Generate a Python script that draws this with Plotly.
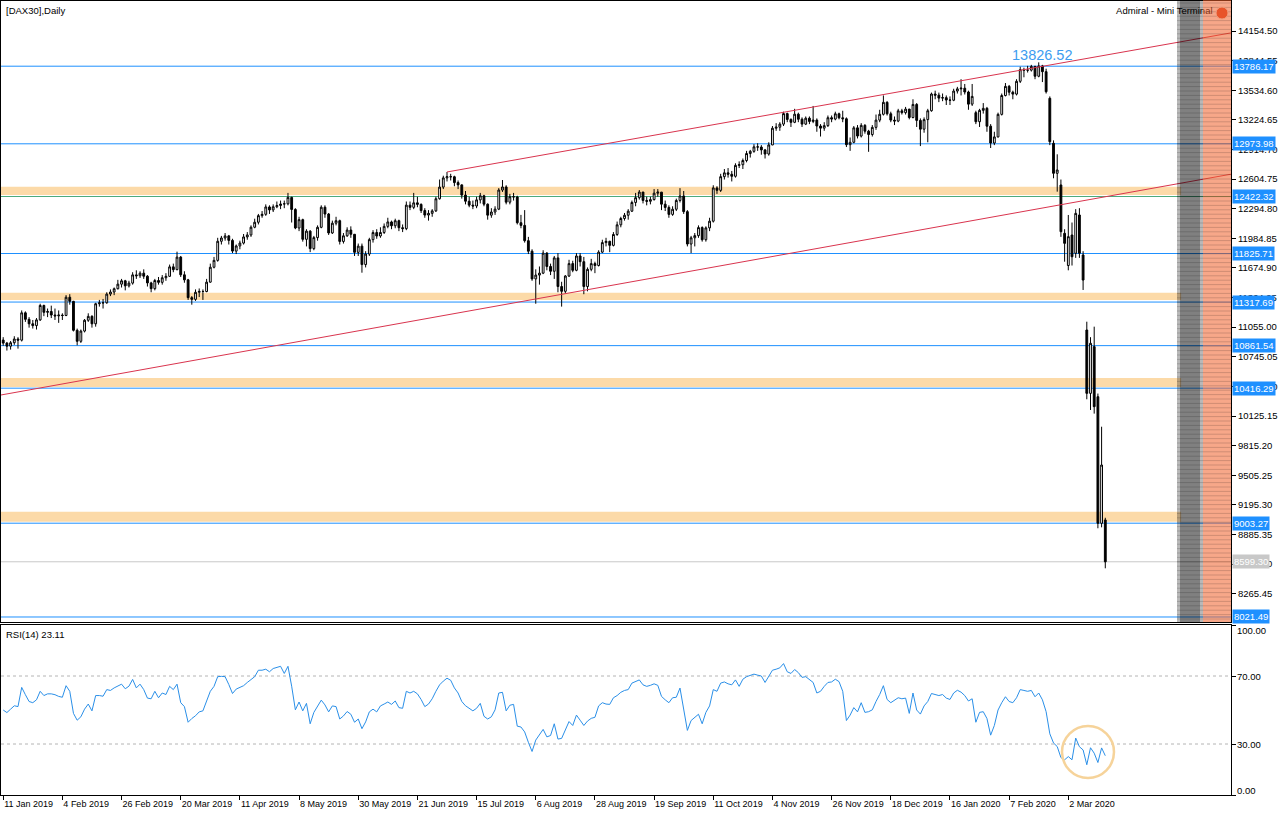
import plotly.graph_objects as go

# ---------------- data ----------------
date_labels = ["11 Jan 2019", "4 Feb 2019", "26 Feb 2019", "20 Mar 2019", "11 Apr 2019",
               "8 May 2019", "30 May 2019", "21 Jun 2019", "15 Jul 2019", "6 Aug 2019",
               "28 Aug 2019", "19 Sep 2019", "11 Oct 2019", "4 Nov 2019", "26 Nov 2019",
               "18 Dec 2019", "16 Jan 2020", "7 Feb 2020", "2 Mar 2020"]
date_label_bars = [0, 16, 32, 48, 64, 80, 96, 112, 128, 144, 160, 176, 192, 208, 224,
                   240, 256, 272, 288]

opens = [
    10920, 10888, 10856, 10892, 10931, 10919, 11205, 11137, 11090, 11071,
    11131, 11282, 11210, 11219, 11182, 11173, 11181, 11177, 11368, 11325,
    11022, 10907, 11014, 11127, 11168, 11090, 11300, 11309, 11310, 11401,
    11423, 11457, 11505, 11540, 11487, 11516, 11602, 11593, 11620, 11588,
    11518, 11458, 11543, 11524, 11572, 11587, 11686, 11657, 11788, 11603,
    11550, 11364, 11346, 11420, 11429, 11428, 11526, 11682, 11754, 11954,
    11988, 12010, 11963, 11851, 11905, 11935, 11999, 12020, 12101, 12153,
    12222, 12236, 12313, 12282, 12315, 12328, 12344, 12346, 12413, 12287,
    12093, 12180, 11974, 12060, 11877, 11992, 12100, 12310, 12239, 12041,
    12143, 12169, 11952, 12011, 12071, 12027, 11838, 11903, 11710, 11820,
    11971, 12045, 12009, 12046, 12110, 12156, 12116, 12169, 12096, 12086,
    12332, 12309, 12356, 12340, 12275, 12228, 12246, 12272, 12399, 12521,
    12617, 12630, 12629, 12568, 12544, 12437, 12373, 12332, 12323, 12387,
    12430, 12342, 12227, 12260, 12290, 12490, 12522, 12363, 12420, 12418,
    12148, 12120, 11960, 11850, 11560, 11600, 11620, 11830, 11690, 11640,
    11780, 11480, 11430, 11590, 11720, 11650, 11800, 11740, 11480, 11660,
    11720, 11700, 11840, 11940, 11953, 11911, 12025, 12126, 12192, 12226,
    12269, 12360, 12410, 12469, 12381, 12372, 12390, 12457, 12468, 12342,
    12308, 12235, 12289, 12381, 12428, 12264, 11925, 11990, 12013, 12097,
    11970, 12094, 12164, 12512, 12487, 12630, 12670, 12655, 12634, 12748,
    12755, 12799, 12872, 12895, 12942, 12940, 12910, 12867, 12962, 13137,
    13148, 13180, 13290, 13229, 13199, 13284, 13231, 13180, 13242, 13208,
    13222, 13160, 13138, 13164, 13247, 13233, 13288, 13246, 13236, 12965,
    12990, 13141, 13055, 13167, 13106, 13071, 13146, 13222, 13283, 13408,
    13288, 13222, 13212, 13319, 13300, 13337, 13249, 13386, 13219, 13127,
    13227, 13320, 13495, 13483, 13452, 13457, 13432, 13430, 13526, 13549,
    13556, 13516, 13389, 13300, 13205, 13324, 13345, 13158, 12982, 13046,
    13282, 13479, 13575, 13514, 13494, 13628, 13750, 13745, 13745, 13784,
    13681, 13789, 13729, 13450, 12979, 12665, 12543, 12037, 11700, 12019,
    11828, 12229, 11810, 11025, 10362, 10851, 10327, 9002, 9037]

highs = [
    10950, 10900, 10910, 10960, 10950, 11230, 11220, 11160, 11130, 11150,
    11300, 11290, 11250, 11280, 11250, 11230, 11200, 11390, 11400, 11330,
    11040, 11030, 11140, 11200, 11180, 11310, 11340, 11350, 11420, 11450,
    11470, 11550, 11560, 11550, 11540, 11630, 11650, 11640, 11660, 11600,
    11530, 11560, 11580, 11600, 11620, 11710, 11720, 11845, 11800, 11640,
    11560, 11380, 11450, 11460, 11450, 11560, 11720, 11790, 11990, 12010,
    12040, 12020, 11980, 11920, 11960, 12030, 12050, 12120, 12190, 12240,
    12270, 12340, 12330, 12340, 12370, 12380, 12380, 12460, 12420, 12300,
    12210, 12190, 12080, 12070, 12010, 12120, 12330, 12330, 12250, 12170,
    12210, 12180, 12040, 12100, 12110, 12030, 11930, 11930, 11850, 11990,
    12070, 12080, 12100, 12140, 12200, 12170, 12190, 12180, 12130, 12370,
    12370, 12460, 12420, 12350, 12300, 12280, 12290, 12420, 12600, 12640,
    12679, 12660, 12640, 12590, 12550, 12480, 12420, 12380, 12420, 12460,
    12440, 12350, 12300, 12320, 12510, 12595, 12540, 12450, 12460, 12430,
    12230, 12280, 12000, 11870, 11660, 11690, 11860, 11840, 11720, 11800,
    11830, 11530, 11600, 11760, 11750, 11830, 11830, 11790, 11680, 11770,
    11740, 11860, 11970, 11990, 11960, 12050, 12160, 12210, 12250, 12290,
    12380, 12460, 12490, 12470, 12420, 12420, 12500, 12500, 12470, 12380,
    12330, 12320, 12400, 12510, 12480, 12280, 12010, 12040, 12120, 12110,
    12110, 12200, 12540, 12530, 12660, 12710, 12720, 12690, 12770, 12790,
    12820, 12900, 12910, 12970, 12980, 12960, 12920, 12990, 13160, 13190,
    13200, 13310, 13300, 13240, 13340, 13300, 13250, 13260, 13260, 13370,
    13240, 13180, 13200, 13270, 13270, 13310, 13300, 13320, 13250, 13040,
    13160, 13170, 13190, 13180, 13120, 13170, 13280, 13330, 13480, 13420,
    13310, 13260, 13340, 13340, 13360, 13340, 13440, 13400, 13240, 13250,
    13340, 13510, 13530, 13510, 13500, 13480, 13470, 13550, 13570, 13650,
    13600, 13530, 13600, 13320, 13340, 13400, 13360, 13180, 13100, 13300,
    13500, 13610, 13590, 13530, 13650, 13780, 13770, 13790, 13800, 13790,
    13826.52, 13800, 13760, 13470, 13010, 12864, 12600, 12080, 12229, 12150,
    12290, 12300, 11850, 11112, 10950, 11060, 10360, 10013, 9060]

lows = [
    10860, 10810, 10820, 10870, 10830, 10905, 11110, 11050, 11040, 11030,
    11120, 11170, 11160, 11150, 11130, 11100, 11130, 11170, 11290, 11010,
    10865, 10890, 11000, 11110, 11050, 11060, 11270, 11250, 11300, 11380,
    11390, 11450, 11470, 11440, 11470, 11500, 11560, 11570, 11560, 11480,
    11420, 11440, 11500, 11500, 11540, 11580, 11630, 11650, 11580, 11520,
    11340, 11290, 11330, 11370, 11340, 11420, 11520, 11670, 11740, 11920,
    11960, 11920, 11830, 11820, 11870, 11920, 11970, 12000, 12090, 12130,
    12200, 12220, 12240, 12260, 12300, 12290, 12300, 12330, 12150, 12080,
    12060, 11950, 11900, 11840, 11860, 11960, 12090, 12200, 12020, 12030,
    12120, 11920, 11930, 12000, 11990, 11800, 11800, 11625, 11680, 11800,
    11940, 11980, 11990, 12030, 12090, 12080, 12090, 12060, 12050, 12070,
    12280, 12290, 12310, 12250, 12200, 12170, 12210, 12260, 12390, 12500,
    12580, 12590, 12530, 12500, 12400, 12340, 12310, 12290, 12300, 12350,
    12320, 12180, 12200, 12230, 12280, 12470, 12340, 12340, 12380, 12130,
    12090, 11940, 11820, 11540, 11300, 11500, 11610, 11650, 11600, 11560,
    11420, 11270, 11410, 11580, 11630, 11640, 11690, 11400, 11430, 11640,
    11620, 11690, 11830, 11900, 11840, 11900, 12010, 12100, 12170, 12180,
    12260, 12320, 12390, 12350, 12330, 12340, 12380, 12420, 12280, 12270,
    12200, 12220, 12270, 12360, 12240, 11900, 11830, 11900, 11990, 11950,
    11950, 12060, 12150, 12450, 12470, 12600, 12620, 12580, 12620, 12720,
    12710, 12780, 12830, 12880, 12900, 12860, 12820, 12850, 12960, 13110,
    13110, 13160, 13200, 13150, 13190, 13200, 13150, 13170, 13180, 13190,
    13100, 13050, 13110, 13150, 13200, 13220, 13230, 13200, 12940, 12900,
    12980, 13030, 13040, 13080, 12890, 13050, 13120, 13200, 13270, 13270,
    13200, 13170, 13200, 13280, 13280, 13230, 13240, 13150, 12950, 13090,
    12990, 13310, 13440, 13410, 13420, 13380, 13380, 13420, 13500, 13480,
    13490, 13330, 13370, 13180, 13150, 13290, 13100, 12930, 12960, 13040,
    13270, 13470, 13480, 13440, 13480, 13610, 13670, 13720, 13730, 13650,
    13670, 13620, 13500, 12960, 12613, 12473, 12000, 11740, 11650, 11700,
    11780, 11780, 11444, 10300, 10188, 10150, 8950, 8960, 8531]

closes = [
    10888, 10856, 10892, 10931, 10919, 11205, 11137, 11090, 11071, 11131,
    11282, 11210, 11219, 11182, 11173, 11181, 11177, 11368, 11325, 11022,
    10907, 11014, 11127, 11168, 11090, 11300, 11309, 11310, 11401, 11423,
    11457, 11505, 11540, 11487, 11516, 11602, 11593, 11620, 11588, 11518,
    11458, 11543, 11524, 11572, 11587, 11686, 11657, 11788, 11603, 11550,
    11364, 11346, 11420, 11429, 11428, 11526, 11682, 11754, 11954, 11988,
    12010, 11963, 11851, 11905, 11935, 11999, 12020, 12101, 12153, 12222,
    12236, 12313, 12282, 12315, 12328, 12344, 12346, 12413, 12287, 12093,
    12180, 11974, 12060, 11877, 11992, 12100, 12310, 12239, 12041, 12143,
    12169, 11952, 12011, 12071, 12027, 11838, 11903, 11710, 11820, 11971,
    12045, 12009, 12046, 12110, 12156, 12116, 12169, 12096, 12086, 12332,
    12309, 12356, 12340, 12275, 12228, 12246, 12272, 12399, 12521, 12617,
    12630, 12629, 12568, 12544, 12437, 12373, 12332, 12323, 12387, 12430,
    12342, 12227, 12260, 12290, 12490, 12522, 12363, 12420, 12418, 12148,
    12120, 11960, 11850, 11560, 11600, 11620, 11830, 11690, 11640, 11780,
    11480, 11430, 11590, 11720, 11650, 11800, 11740, 11480, 11660, 11720,
    11700, 11840, 11940, 11953, 11911, 12025, 12126, 12192, 12226, 12269,
    12360, 12410, 12469, 12381, 12372, 12390, 12457, 12468, 12342, 12308,
    12235, 12289, 12381, 12428, 12264, 11925, 11990, 12013, 12097, 11970,
    12094, 12164, 12512, 12487, 12630, 12670, 12655, 12634, 12748, 12755,
    12799, 12872, 12895, 12942, 12940, 12910, 12867, 12962, 13137, 13148,
    13180, 13290, 13229, 13199, 13284, 13231, 13180, 13242, 13208, 13222,
    13160, 13138, 13164, 13247, 13233, 13288, 13246, 13236, 12965, 12990,
    13141, 13055, 13167, 13106, 13071, 13146, 13222, 13283, 13408, 13288,
    13222, 13212, 13319, 13300, 13337, 13249, 13386, 13219, 13127, 13227,
    13320, 13495, 13483, 13452, 13457, 13432, 13430, 13526, 13549, 13556,
    13516, 13389, 13470, 13205, 13324, 13345, 13158, 12982, 13046, 13282,
    13479, 13575, 13514, 13494, 13628, 13750, 13745, 13745, 13784, 13681,
    13789, 13729, 13519, 12996, 12665, 12700, 12054, 11932, 12002, 11792,
    12246, 11828, 11548, 10362, 10886, 10223, 9002, 9612, 8599.30]

rsi_values = [
    50, 48.5, 50.5, 52.5, 52, 63.3, 59, 55, 54.3, 56,
    61, 58.5, 59.5, 59.5, 59, 58, 57.5, 64.3, 61, 48,
    44, 46, 50.5, 53.5, 49.5, 58.5, 58.5, 58.1, 62, 61.5,
    63, 64.3, 65.2, 62.5, 64, 68, 63, 65.2, 62, 57,
    56.6, 61, 57.2, 60, 59.1, 63.9, 62, 65.2, 54.3, 52,
    42.8, 45, 46.6, 48.9, 49.5, 55.3, 61, 63.9, 69.6, 69.8,
    69.6, 65, 59.7, 62.3, 63.5, 64.3, 66.2, 68, 69.6, 73.4,
    73.4, 74, 72.5, 74.4, 75, 75.7, 71.5, 75.7, 64, 50.1,
    54.7, 49.5, 53.9, 41.9, 48.6, 52.5, 55.8, 53, 48.9, 52.4,
    52, 44.7, 46.5, 49.1, 47.5, 42.8, 44.7, 39, 43, 48.9,
    50.5, 48.9, 52.4, 53.5, 54.7, 53.3, 55.3, 51.4, 51, 61,
    60, 61, 59.5, 56.2, 52, 53.5, 56.6, 61, 64.8, 67,
    68.7, 67.5, 63, 60, 55, 52.5, 50.9, 49.5, 51, 53.9,
    46.3, 44.7, 46, 50.1, 60, 60.4, 49.5, 52.8, 53.3, 40.5,
    40, 37.1, 31, 25.6, 32.3, 35.5, 38.6, 34.2, 35, 41.9,
    32.9, 33.3, 38, 43.2, 40.9, 47, 44, 40.9, 43.5, 45.1,
    45.7, 52.4, 54.3, 53.5, 53.3, 57.2, 58.5, 60.4, 61.5, 62,
    65.8, 66.8, 67.7, 64.8, 63.9, 64.5, 65.4, 64.5, 58, 56,
    54.3, 57.2, 57.5, 62.9, 50, 38, 43.8, 45.7, 47.5, 41.9,
    48.6, 52.4, 62, 61, 65.8, 66.5, 65.4, 64.8, 67.7, 63.9,
    68.1, 69.6, 70.5, 71.1, 70.5, 70, 66.2, 70, 73.4, 74,
    74.8, 77.3, 72.5, 71.5, 73.8, 72, 69.2, 69.6, 68, 66.2,
    60, 61, 63.9, 66.2, 66.5, 68.1, 66.7, 61, 43.8, 47,
    51.4, 48.9, 54.3, 48.6, 49, 50.1, 55, 59.1, 64.3, 56.2,
    54.3, 55.5, 57.2, 56.6, 57, 48, 60, 50, 47.6, 52.4,
    55, 59.7, 59, 58.5, 59.1, 57, 56.2, 60, 61.6, 60.5,
    58.5, 55.3, 56.6, 42.8, 48.6, 49, 45, 35.2, 40.9, 50,
    54.3, 57.8, 55, 54.3, 57.2, 62, 61.5, 61, 61.5, 57.8,
    60, 56, 49, 36, 30.6, 28.5, 22, 20.7, 22.6, 20.7,
    33.5, 28.4, 26.5, 17.8, 27.8, 24.6, 19.1, 27.7, 23.11]

price_ticks = [14154.50, 13844.55, 13534.60, 13224.65, 12914.70, 12604.75, 12294.80,
               11984.85, 11674.90, 11364.95, 11055.00, 10745.05, 10435.10, 10125.15,
               9815.20, 9505.25, 9195.30, 8885.35, 8575.40, 8265.45]

level_prices = [13786.17, 12973.98, 12422.32, 11825.71, 11317.69, 10861.54, 10416.29,
                9003.27, 8021.49]
green_level = 12422.32
current_price = 8599.30
zone_low = [12438, 11339, 10428, 9019]
zone_high = [12525, 11416, 10523, 9124]

peak_bar = 281
peak_value = 13826.52

channel_upper_x = [120, 332]
channel_upper_y = [12679, 14135]
channel_lower_x = [-0.6, 332]
channel_lower_y = [10345, 12656]

rsi_levels = [70, 30]
rsi_tick_values = [100, 70, 30, 0]
rsi_last = 23.11

assert len(opens) == len(highs) == len(lows) == len(closes) == len(rsi_values)

# ---------------- geometry ----------------
W, H = 1280, 815
ML, MR, MT, MB = 1, 49, 1, 20
PW, PH = W - ML - MR, H - MT - MB


def px_x(px):
    return (px - ML) / PW


def px_y(py):
    return (H - MB - py) / PH


main_dom = [px_y(622), 1.0]
rsi_dom = [0.0, px_y(625)]
x_range = [-0.595, 331.99]
y_range = [7969.1, 14468.5]

FONT = "Liberation Sans, Arial, sans-serif"
BLUE = "#1e90ff"

bars = list(range(len(closes)))

fig = go.Figure()

fig.add_trace(go.Candlestick(
    x=bars, open=opens, high=highs, low=lows, close=closes,
    increasing=dict(line=dict(color="black", width=1), fillcolor="white"),
    decreasing=dict(line=dict(color="black", width=1), fillcolor="black"),
    whiskerwidth=0, xaxis="x", yaxis="y", showlegend=False, hoverinfo="skip"))

for xs, ys in [(channel_upper_x, channel_upper_y), (channel_lower_x, channel_lower_y)]:
    fig.add_trace(go.Scatter(x=xs, y=ys, mode="lines", line=dict(color="#d9344e", width=1),
                             xaxis="x", yaxis="y", showlegend=False, hoverinfo="skip"))

fig.add_trace(go.Scatter(x=bars, y=rsi_values, mode="lines",
                         line=dict(color="#2a8fe8", width=1),
                         xaxis="x2", yaxis="y2", showlegend=False, hoverinfo="skip"))

# window title text of the mini terminal (drawn under the terminal strips)
fig.add_trace(go.Scatter(x=[327.0], y=[14353], mode="text", text=["Admiral - Mini Terminal"],
                         textposition="middle left",
                         textfont=dict(family=FONT, size=9.5, color="black"),
                         xaxis="x", yaxis="y", showlegend=False, hoverinfo="skip"))

shapes = []
# supply / demand zones
for lo, hi in zip(zone_low, zone_high):
    shapes.append(dict(type="rect", xref="x", yref="y", x0=x_range[0], x1=318.5, y0=lo, y1=hi,
                       fillcolor="#fcdaa8", line=dict(width=0), layer="below"))
# horizontal levels
for lv in level_prices:
    col = "#4caa7c" if lv == green_level else BLUE
    shapes.append(dict(type="line", xref="x domain", yref="y", x0=0, x1=1, y0=lv, y1=lv,
                       line=dict(color=col, width=1), layer="below"))
shapes.append(dict(type="line", xref="x domain", yref="y", x0=0, x1=1, y0=current_price,
                   y1=current_price, line=dict(color="#c8c8c8", width=1), layer="below"))
# rsi levels
for lv in rsi_levels:
    shapes.append(dict(type="line", xref="x2 domain", yref="y2", x0=0, x1=1, y0=lv, y1=lv,
                       line=dict(color="#b4b4b4", width=1, dash="3px,3px"), layer="below"))
# mini-terminal strips (on top)
top_p, bot_p = px_y(0), main_dom[0]
shapes.append(dict(type="rect", xref="paper", yref="paper", x0=px_x(1177), x1=px_x(1203),
                   y0=bot_p, y1=top_p, fillcolor="rgba(0,0,0,0.28)", line=dict(width=0)))
shapes.append(dict(type="rect", xref="paper", yref="paper", x0=px_x(1180), x1=px_x(1200),
                   y0=bot_p, y1=top_p, fillcolor="rgba(0,0,0,0.30)", line=dict(width=0)))
shapes.append(dict(type="rect", xref="paper", yref="paper", x0=px_x(1203), x1=px_x(1231),
                   y0=bot_p, y1=top_p, fillcolor="rgba(240,95,40,0.55)", line=dict(width=0)))
k = 0
while 3 + k * 4.4 < 621:
    yy = px_y(3 + k * 4.4)
    shapes.append(dict(type="line", xref="paper", yref="paper", x0=px_x(1177), x1=px_x(1231),
                       y0=yy, y1=yy, line=dict(color="rgba(0,0,0,0.16)", width=1)))
    k += 1
# icon
shapes.append(dict(type="circle", xref="paper", yref="paper",
                   x0=px_x(1216), x1=px_x(1228), y0=px_y(19), y1=px_y(7),
                   fillcolor="#e8542a", line=dict(color="#f0a080", width=1)))
# highlight circle on the RSI
shapes.append(dict(type="circle", xref="paper", yref="paper",
                   x0=px_x(1062), x1=px_x(1114), y0=px_y(778), y1=px_y(726),
                   line=dict(color="#f6d39a", width=2.5), fillcolor="rgba(0,0,0,0)"))

annotations = []
for lv in level_prices:
    annotations.append(dict(xref="paper", yref="y", x=1, y=lv, xanchor="left", yanchor="middle",
                            xshift=1, text=f"{lv:.2f}", showarrow=False, bgcolor=BLUE,
                            borderpad=1, font=dict(family=FONT, size=9.5, color="white")))
annotations.append(dict(xref="paper", yref="y", x=1, y=current_price, xanchor="left",
                        yanchor="middle", xshift=1, text=f"{current_price:.2f}", showarrow=False,
                        bgcolor="#c8c8c8", borderpad=1,
                        font=dict(family=FONT, size=9.5, color="white")))
for v in rsi_tick_values:
    shift = -5 if v == 100 else (5 if v == 0 else 0)
    annotations.append(dict(xref="paper", yref="y2", x=1, y=v, xanchor="left", yanchor="middle",
                            xshift=4, yshift=shift, text=f"{v:.2f}", showarrow=False,
                            font=dict(family=FONT, size=9.5, color="black")))
annotations.append(dict(xref="x", yref="y", x=peak_bar, y=peak_value, xanchor="center",
                        yanchor="bottom", yshift=-3, text=f"{peak_value:.2f}", showarrow=False,
                        font=dict(family=FONT, size=14.5, color="#3d9cf0")))
annotations.append(dict(xref="paper", yref="paper", x=0, y=1, xanchor="left", yanchor="top",
                        xshift=3, yshift=-2, text="[DAX30],Daily", showarrow=False,
                        font=dict(family=FONT, size=9.5, color="black")))
annotations.append(dict(xref="paper", yref="paper", x=0, y=rsi_dom[1], xanchor="left",
                        yanchor="top", xshift=3, yshift=-2, text=f"RSI(14) {rsi_last:.2f}",
                        showarrow=False, font=dict(family=FONT, size=9.5, color="black")))

axis_common = dict(showgrid=False, zeroline=False, showline=True, mirror=True,
                   linecolor="black", linewidth=1, automargin=False)

fig.update_layout(
    width=W, height=H, margin=dict(l=ML, r=MR, t=MT, b=MB, autoexpand=False),
    paper_bgcolor="white", plot_bgcolor="white", showlegend=False,
    font=dict(family=FONT, size=9.5, color="black"),
    shapes=shapes, annotations=annotations,
    xaxis=dict(domain=[0, 1], anchor="y", range=x_range, showticklabels=False,
               ticks="", rangeslider=dict(visible=False), **axis_common),
    yaxis=dict(domain=main_dom, anchor="x", range=y_range, side="right",
               tickvals=price_ticks, ticktext=[f"{v:.2f}" for v in price_ticks],
               ticks="outside", ticklen=4, tickcolor="black",
               tickfont=dict(family=FONT, size=9.5, color="black"), **axis_common),
    xaxis2=dict(domain=[0, 1], anchor="y2", matches="x", range=x_range,
                tickvals=date_label_bars, ticktext=date_labels, ticks="outside", ticklen=4,
                tickcolor="black", ticklabelposition="outside right", tickangle=0,
                tickfont=dict(family=FONT, size=9, color="black"), **axis_common),
    yaxis2=dict(domain=rsi_dom, anchor="x2", range=[0, 100], side="right",
                tickvals=rsi_tick_values, ticks="outside", ticklen=4, tickcolor="black",
                showticklabels=False, **axis_common),
)

fig.write_html("out.html", config={"displayModeBar": False, "staticPlot": True},
               post_script="document.body.style.margin='0px';document.body.style.overflow='hidden';")
